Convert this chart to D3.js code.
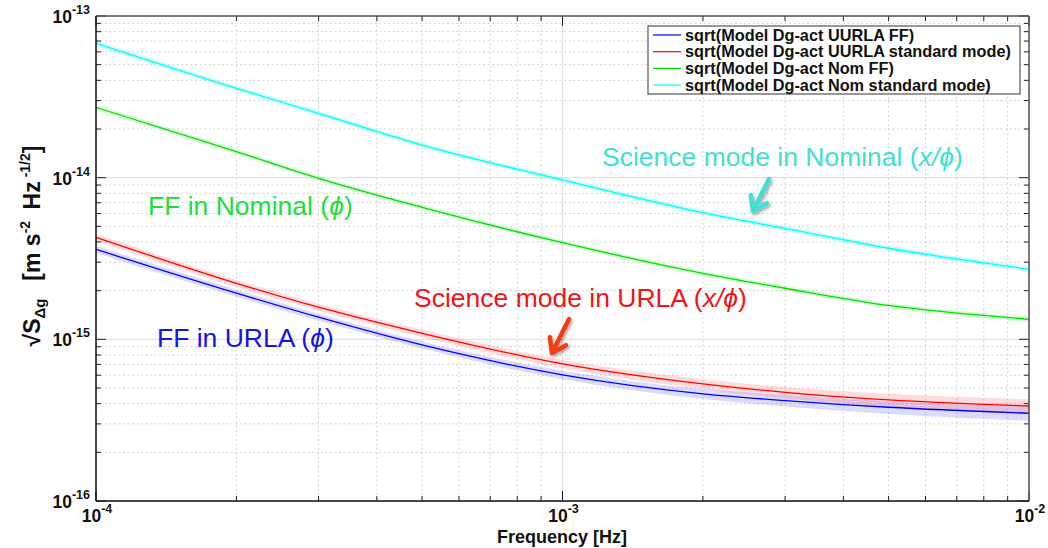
<!DOCTYPE html>
<html>
<head>
<meta charset="utf-8">
<script src="https://cdn.jsdelivr.net/npm/d3@7"></script>
<style>
  html, body { margin: 0; padding: 0; background: #fff; }
  svg { display: block; font-family: "Liberation Sans", Arial, Helvetica, sans-serif; }
</style>
</head>
<body>
<svg id="chart" width="1048" height="548"></svg>
<script>
// Frequencies [Hz] at which the ASDs are sampled
const freqs = [1e-4, 2e-4, 3e-4, 5e-4, 1e-3, 2e-3, 3e-3, 5e-3, 1e-2];

// sqrt of modelled Dg-act PSD [m s^-2 Hz^-1/2]
const uurlaFF   = [3.60e-15, 1.93e-15, 1.37e-15, 9.23e-16, 6.03e-16, 4.60e-16, 4.18e-16, 3.80e-16, 3.49e-16];
const uurlaStd  = [4.28e-15, 2.22e-15, 1.58e-15, 1.09e-15, 7.05e-16, 5.30e-16, 4.70e-16, 4.22e-16, 3.87e-16];
const nomFF     = [2.72e-14, 1.45e-14, 9.91e-15, 6.56e-15, 3.96e-15, 2.56e-15, 2.07e-15, 1.62e-15, 1.33e-15];
const nomStd    = [6.78e-14, 3.57e-14, 2.50e-14, 1.59e-14, 9.68e-15, 6.08e-15, 4.85e-15, 3.66e-15, 2.72e-15];

// Relative half-width of the uncertainty band around each model curve
const uurlaFFErr  = [0.05, 0.05, 0.05, 0.05, 0.06, 0.07, 0.08, 0.09, 0.10];
const uurlaStdErr = [0.05, 0.05, 0.05, 0.05, 0.06, 0.07, 0.08, 0.09, 0.10];
const nomFFErr    = [0.04, 0.035, 0.035, 0.035, 0.035, 0.035, 0.035, 0.035, 0.04];
const nomStdErr   = [0.04, 0.035, 0.035, 0.035, 0.035, 0.035, 0.035, 0.035, 0.035];

const legendLabels = [
  "sqrt(Model Dg-act UURLA FF)",
  "sqrt(Model Dg-act UURLA standard mode)",
  "sqrt(Model Dg-act Nom FF)",
  "sqrt(Model Dg-act Nom standard mode)"
];
const xTickExps = [-4, -3, -2];
const yTickExps = [-16, -15, -14, -13];

const series = [
  { name: legendLabels[0], values: uurlaFF,  err: uurlaFFErr,  color: "#0000ff", band: "rgba(90,90,255,0.22)" },
  { name: legendLabels[1], values: uurlaStd, err: uurlaStdErr, color: "#ff0000", band: "rgba(255,90,90,0.22)" },
  { name: legendLabels[2], values: nomFF,    err: nomFFErr,    color: "#00e000", band: "rgba(80,230,80,0.22)" },
  { name: legendLabels[3], values: nomStd,   err: nomStdErr,   color: "#00ffff", band: "rgba(80,240,240,0.30)" }
];

const svg = d3.select("#chart");
const L = 96, R = 1029, T = 16, B = 501;

const x = d3.scaleLog().domain([1e-4, 1e-2]).range([L, R]);
const y = d3.scaleLog().domain([1e-16, 1e-13]).range([B, T]);

const defs = svg.append("defs");
defs.append("clipPath").attr("id", "plotClip")
  .append("rect").attr("x", L).attr("y", T).attr("width", R - L).attr("height", B - T);
const shadow = defs.append("filter").attr("id", "shadow")
  .attr("x", "-50%").attr("y", "-50%").attr("width", "200%").attr("height", "200%");
shadow.append("feDropShadow").attr("dx", 1.5).attr("dy", 2).attr("stdDeviation", 1.5)
  .attr("flood-color", "#000").attr("flood-opacity", 0.35);

// Minor and major grid positions
const minorX = [], minorY = [];
for (let e = -4; e < -2; e++) for (let m = 2; m <= 9; m++) minorX.push(m * Math.pow(10, e));
for (let e = -16; e < -13; e++) for (let m = 2; m <= 9; m++) minorY.push(m * Math.pow(10, e));
const majorX = xTickExps.map(e => Math.pow(10, e));
const majorY = yTickExps.map(e => Math.pow(10, e));

const grid = svg.append("g");
grid.selectAll(".gxm").data(minorX).join("line")
  .attr("x1", d => x(d)).attr("x2", d => x(d)).attr("y1", T).attr("y2", B)
  .attr("stroke", "#d4d4d4").attr("stroke-width", 1).attr("stroke-dasharray", "2,2.5");
grid.selectAll(".gym").data(minorY).join("line")
  .attr("y1", d => y(d)).attr("y2", d => y(d)).attr("x1", L).attr("x2", R)
  .attr("stroke", "#d4d4d4").attr("stroke-width", 1).attr("stroke-dasharray", "2,2.5");
grid.selectAll(".gxM").data(majorX).join("line")
  .attr("x1", d => x(d)).attr("x2", d => x(d)).attr("y1", T).attr("y2", B)
  .attr("stroke", "#e2e2e2").attr("stroke-width", 1.2);
grid.selectAll(".gyM").data(majorY).join("line")
  .attr("y1", d => y(d)).attr("y2", d => y(d)).attr("x1", L).attr("x2", R)
  .attr("stroke", "#e2e2e2").attr("stroke-width", 1.2);

// Uncertainty bands and model curves
const plot = svg.append("g").attr("clip-path", "url(#plotClip)");
const area = d3.area()
  .x(d => x(d.f)).y0(d => y(d.v * (1 - d.e))).y1(d => y(d.v * (1 + d.e)))
  .curve(d3.curveMonotoneX);
const line = d3.line().x(d => x(d.f)).y(d => y(d.v)).curve(d3.curveMonotoneX);

series.forEach(s => {
  const pts = freqs.map((f, i) => ({ f, v: s.values[i], e: s.err[i] }));
  s.pts = pts;
  plot.append("path").attr("d", area(pts)).attr("fill", s.band).attr("stroke", "none");
});
series.forEach(s => {
  plot.append("path").attr("d", line(s.pts)).attr("fill", "none")
    .attr("stroke", s.color).attr("stroke-width", 1.3);
});

// Axes box with inward ticks on all four sides
const axes = svg.append("g");
const tickMajor = 10, tickMinor = 5;
const tk = (x1, y1, x2, y2) => axes.append("line")
  .attr("x1", x1).attr("y1", y1).attr("x2", x2).attr("y2", y2)
  .attr("stroke", "#222").attr("stroke-width", 1);
minorX.forEach(d => { tk(x(d), B, x(d), B - tickMinor); tk(x(d), T, x(d), T + tickMinor); });
majorX.forEach(d => { tk(x(d), B, x(d), B - tickMajor); tk(x(d), T, x(d), T + tickMajor); });
minorY.forEach(d => { tk(L, y(d), L + tickMinor, y(d)); tk(R, y(d), R - tickMinor, y(d)); });
majorY.forEach(d => { tk(L, y(d), L + tickMajor, y(d)); tk(R, y(d), R - tickMajor, y(d)); });
axes.append("line").attr("x1", L).attr("x2", R).attr("y1", T).attr("y2", T).attr("stroke", "#555").attr("stroke-width", 1.5);
axes.append("line").attr("x1", R).attr("x2", R).attr("y1", T).attr("y2", B).attr("stroke", "#555").attr("stroke-width", 1.5);
axes.append("line").attr("x1", L).attr("x2", R).attr("y1", B).attr("y2", B).attr("stroke", "#111").attr("stroke-width", 1.5);
axes.append("line").attr("x1", L).attr("x2", L).attr("y1", T).attr("y2", B).attr("stroke", "#111").attr("stroke-width", 1.5);

// Power-of-ten tick labels
function powLabel(g, px, py, exp, anchor) {
  const t = g.append("text").attr("x", px).attr("y", py)
    .attr("text-anchor", anchor).attr("font-weight", "bold").attr("fill", "#111");
  t.append("tspan").attr("font-size", 17.5).text("10");
  t.append("tspan").attr("font-size", 12.5).attr("dy", -9).text(String(exp));
  return t;
}
yTickExps.forEach(e => powLabel(svg, 90, y(Math.pow(10, e)) + 7, e, "end"));
xTickExps.forEach(e => powLabel(svg, x(Math.pow(10, e)) + 1, 522, e, "middle"));

// Axis titles
svg.append("text").attr("x", 562).attr("y", 543).attr("text-anchor", "middle")
  .attr("font-weight", "bold").attr("font-size", 18).attr("fill", "#111").text("Frequency [Hz]");

const yl = svg.append("text").attr("transform", "translate(40,246) rotate(-90)")
  .attr("text-anchor", "middle").attr("font-weight", "bold").attr("fill", "#111").attr("font-size", 23);
yl.append("tspan").text("\u221AS");
yl.append("tspan").attr("font-size", 15).attr("dy", 5).text("\u0394g");
yl.append("tspan").attr("dy", -5).text("\u2002 [m s");
yl.append("tspan").attr("font-size", 14).attr("dy", -10).text("-2");
yl.append("tspan").attr("dy", 10).text("\u2002Hz");
yl.append("tspan").attr("font-size", 14).attr("dy", -10).text(" -1/2");
yl.append("tspan").attr("dy", 10).text("]");

// Legend
const lg = svg.append("g");
lg.append("rect").attr("x", 648).attr("y", 26).attr("width", 372).attr("height", 68)
  .attr("fill", "#fff").attr("stroke", "#333").attr("stroke-width", 1);
series.forEach((s, i) => {
  const cy = 35 + i * 16.7;
  lg.append("line").attr("x1", 653).attr("x2", 681).attr("y1", cy).attr("y2", cy)
    .attr("stroke", s.color).attr("stroke-width", 1.2);
  lg.append("text").attr("x", 685).attr("y", cy + 5.5).attr("font-size", 16.3)
    .attr("font-weight", "bold").attr("fill", "#111").text(s.name);
});

// Annotations
function note(px, py, color, plain, italic, tail) {
  const t = svg.append("text").attr("x", px).attr("y", py).attr("font-size", 26.5).attr("fill", color);
  t.append("tspan").text(plain);
  t.append("tspan").attr("font-style", "italic").text(italic);
  t.append("tspan").text(tail);
}
note(148, 215, "#22dd3c", "FF in Nominal (", "\u03D5", ")");
note(157, 347, "#1414e6", "FF in URLA (", "\u03D5", ")");
note(414, 307, "#f01414", "Science mode in URLA (", "x/\u03D5", ")");
note(602, 166, "#40e0d4", "Science mode in Nominal (", "x/\u03D5", ")");

// Pointer arrows
function arrow(x0, y0, x1, y1, color) {
  const ang = Math.atan2(y1 - y0, x1 - x0);
  const hl = 16, ha = 0.6;
  const a1 = [x1 - hl * Math.cos(ang - ha), y1 - hl * Math.sin(ang - ha)];
  const a2 = [x1 - hl * Math.cos(ang + ha), y1 - hl * Math.sin(ang + ha)];
  svg.append("path")
    .attr("d", `M${x0},${y0}L${x1},${y1}M${a1[0]},${a1[1]}L${x1},${y1}L${a2[0]},${a2[1]}`)
    .attr("fill", "none").attr("stroke", color).attr("stroke-width", 4.5)
    .attr("stroke-linecap", "round").attr("stroke-linejoin", "round")
    .attr("filter", "url(#shadow)");
}
arrow(569, 319, 552, 353, "#f03c14");
arrow(769, 179, 753, 211, "#40e0d4");
</script>
</body>
</html>
